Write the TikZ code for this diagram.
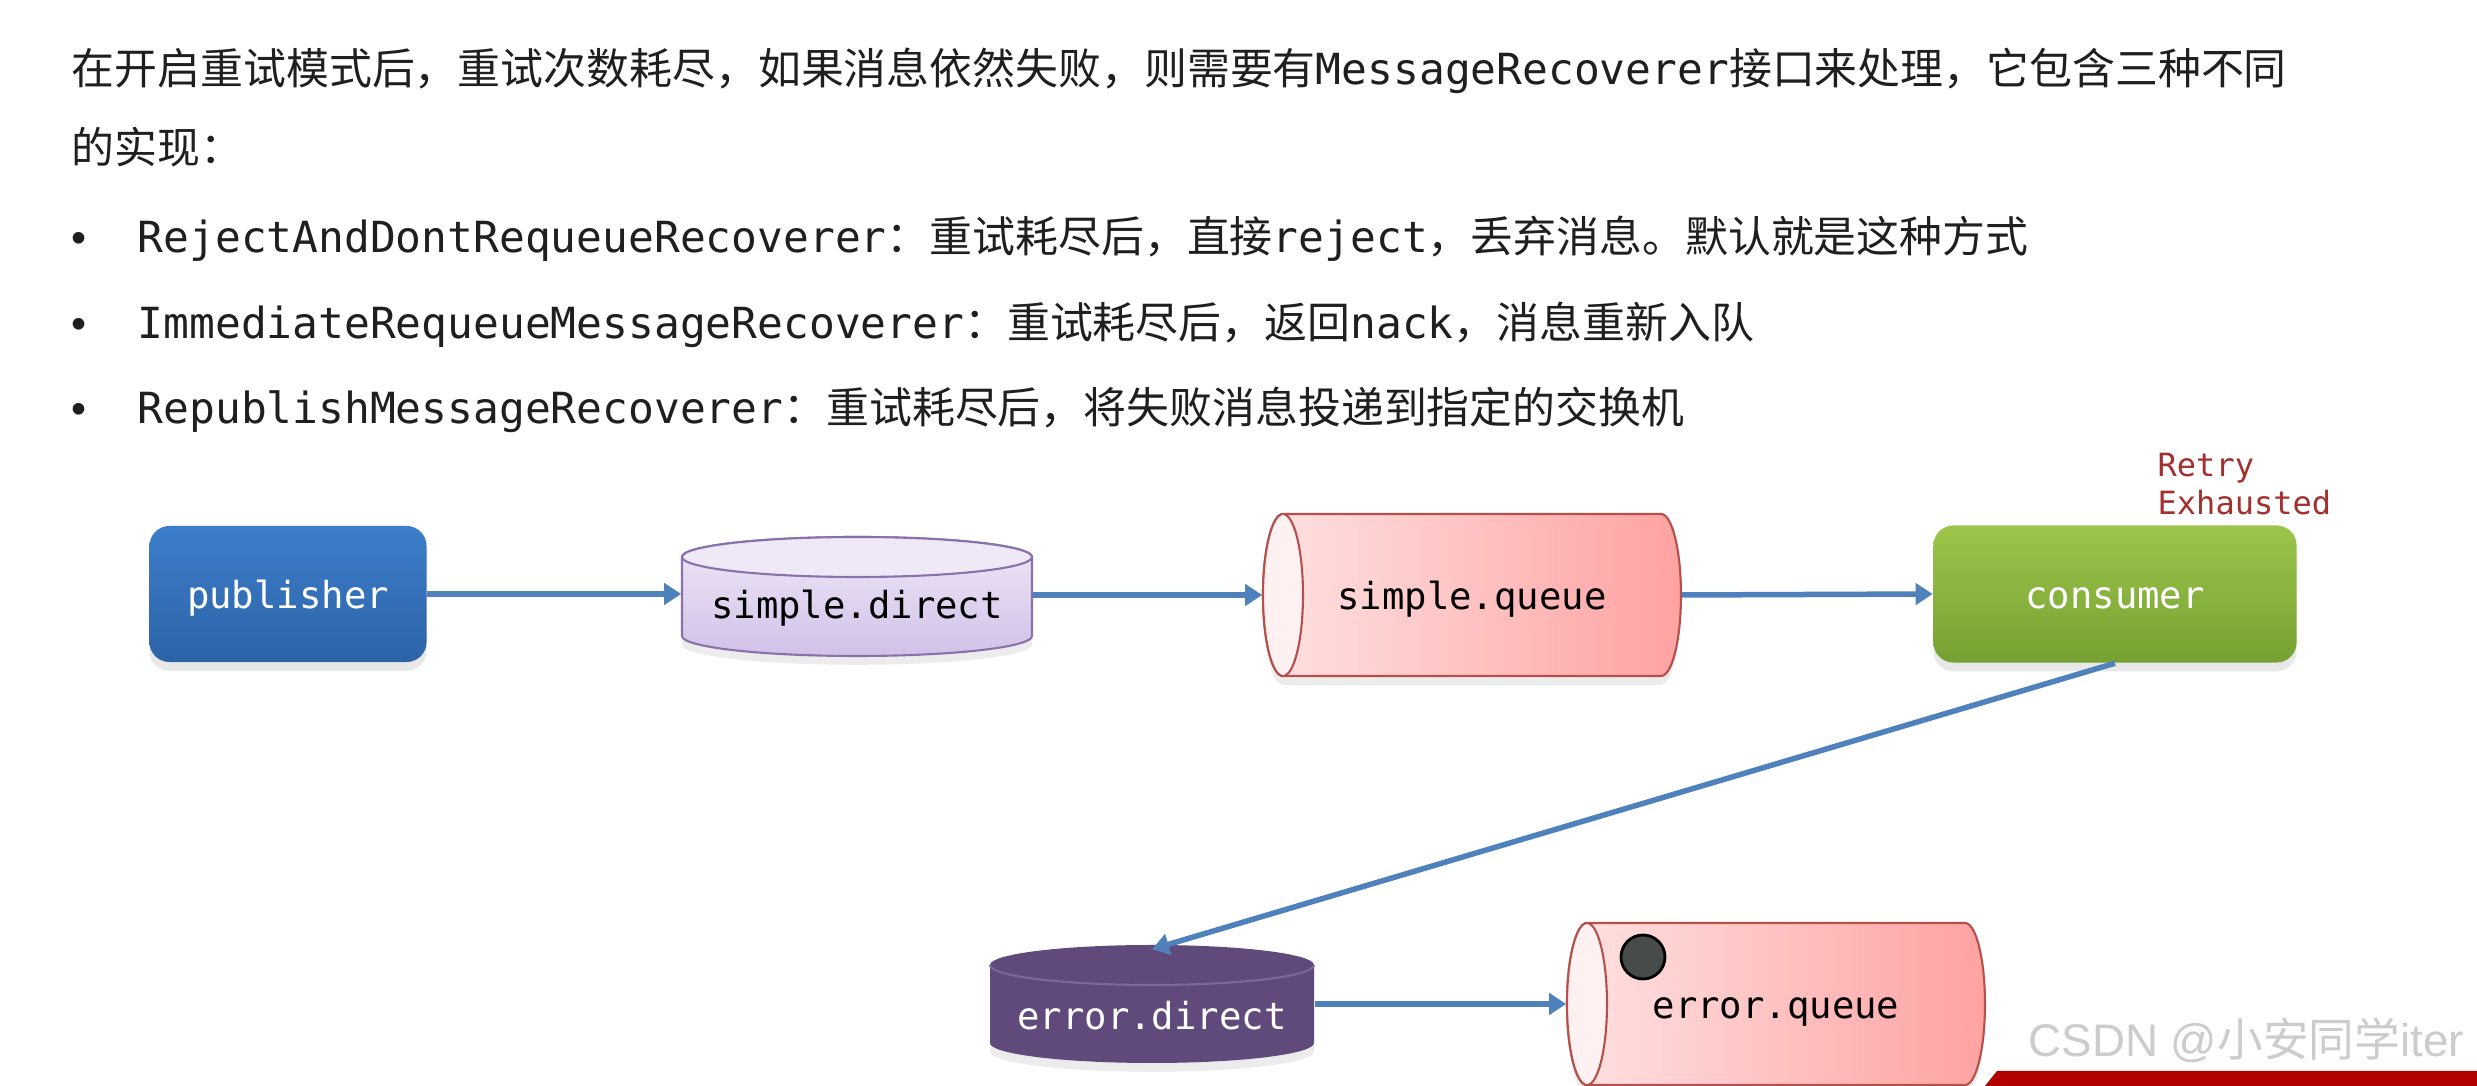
\documentclass[tikz,border=0pt]{standalone}
\usepackage{fontspec}
\setmainfont{Liberation Sans}
\setmonofont{DejaVu Sans Mono}
\newfontfamily\cjk{Noto Sans CJK SC}
\usetikzlibrary{arrows.meta,shadows}

\definecolor{arrowblue}{HTML}{4F81BD}
\definecolor{pubtop}{HTML}{3C7ECB}
\definecolor{pubbot}{HTML}{2D63A6}
\definecolor{constop}{HTML}{9DC54B}
\definecolor{consbot}{HTML}{76A032}
\definecolor{exlight}{HTML}{EFE8F7}
\definecolor{exdark}{HTML}{D2C1E8}
\definecolor{exline}{HTML}{8B71AC}
\definecolor{qlight}{HTML}{FFE2E2}
\definecolor{qdark}{HTML}{FFA2A2}
\definecolor{qend}{HTML}{FFF1F1}
\definecolor{qline}{HTML}{B5504C}
\definecolor{errpurple}{HTML}{604A7B}
\definecolor{errline}{HTML}{7D6899}
\definecolor{retryred}{HTML}{A3302E}
\definecolor{dotgray}{HTML}{474B49}
\definecolor{bannerred}{HTML}{B20000}

\begin{document}
\begin{tikzpicture}[x=0.01cm,y=0.01cm,
  txt/.style={anchor=base west,inner sep=0pt,text=black!88,font=\fontsize{12.2}{14}\selectfont},
  box/.style={rounded corners=0.2cm,minimum width=2.77cm,minimum height=1.36cm,text=white,
    text height=0.38cm,text depth=0.09cm,
    font=\fontsize{10.6}{12}\ttfamily,drop shadow={opacity=0.18,shadow xshift=0pt,shadow yshift=-2.5pt}},
  lbl/.style={inner sep=0pt,text height=0.38cm,text depth=0.09cm,font=\fontsize{10.6}{12}\ttfamily},
  link/.style={arrowblue,line width=0.055cm,-{Triangle[length=0.17cm,width=0.21cm]}},
  shad/.style={drop shadow={opacity=0.15,shadow xshift=0pt,shadow yshift=-2.5pt}}]
  \useasboundingbox (0,0) rectangle (2477,-1086);
  \fill[white] (0,0) rectangle (2477,-1086);

  % intro text
  \node[txt] (intro) at (71,-85) {{\cjk 在开启重试模式后，重试次数耗尽，如果消息依然失败，则需要有}\texttt{MessageRecoverer}{\cjk 接口来处理，它包含三种不同}};
  \node[txt] (intro2) at (71,-164) {\cjk 的实现：};
  \foreach \y/\cls/\desc in {253/RejectAndDontRequeueRecoverer/{重试耗尽后，直接\texttt{reject}，丢弃消息。默认就是这种方式},
      339/ImmediateRequeueMessageRecoverer/{重试耗尽后，返回\texttt{nack}，消息重新入队},
      424/RepublishMessageRecoverer/{重试耗尽后，将失败消息投递到指定的交换机}} {
    \node[txt,anchor=base] (dot\y) at (79,-\y) {•};
    \node[txt] (item\y) at (137,-\y) {\texttt{\cls}{\cjk ：\desc}};
  }

  % exchanges
  \shade[shad,top color=exlight,bottom color=exdark,draw=exline,line width=0.6pt]
    (682,-557) -- (682,-636) arc[start angle=180,end angle=360,x radius=175,y radius=20]
    -- (1032,-557) arc[start angle=0,end angle=180,x radius=175,y radius=20] -- cycle;
  \draw[exline,fill=exlight,line width=0.6pt] (857,-557) ellipse[x radius=175,y radius=20];
  \fill[shad,errpurple] (990,-965) -- (990,-1043) arc[start angle=180,end angle=360,x radius=162,y radius=20]
    -- (1314,-965) arc[start angle=0,end angle=180,x radius=162,y radius=20] -- cycle;
  \draw[errline,line width=0.6pt] (990,-965) arc[start angle=180,end angle=360,x radius=162,y radius=20];

  % queues
  \foreach \qx/\qy in {1283/595,1587/1004} {
    \shade[shad,left color=qlight,right color=qdark,draw=qline,line width=0.6pt]
      (\qx,-\qy+81) -- (\qx+378,-\qy+81) arc[start angle=90,end angle=-90,x radius=20,y radius=81]
      -- (\qx,-\qy-81) arc[start angle=270,end angle=90,x radius=20,y radius=81] -- cycle;
    \draw[qline,fill=qend,line width=0.6pt] (\qx,-\qy) ellipse[x radius=20,y radius=81];
  }
  \draw[black,fill=dotgray,line width=0.8pt] (1643,-957) circle[radius=22];

  % nodes
  \node[box,top color=pubtop,bottom color=pubbot] (pub) at (288,-594) {publisher};
  \node[lbl,minimum width=3.5cm] (sdir) at (857,-604) {simple.direct};
  \node[lbl,minimum width=4.18cm,minimum height=1.62cm] (squeue) at (1472,-595) {simple.queue};
  \node[box,minimum width=3.63cm,minimum height=1.37cm,top color=constop,bottom color=consbot] (cons) at (2115,-594) {consumer};
  \node[inner sep=0pt,text=retryred,font=\fontsize{9.1}{11}\ttfamily,align=left,anchor=north west] (retry) at (2157,-452) {Retry\\Exhausted};
  \node[lbl,minimum width=3.24cm,minimum height=0.98cm,text=white] (edir) at (1152,-1015) {error.direct};
  \node[lbl,minimum width=4.18cm,minimum height=1.62cm] (equeue) at (1776,-1004) {error.queue};

  % links
  \draw[link] (pub.east) -- (pub.east -| sdir.west);
  \draw[link] (squeue.west -| sdir.east) -- (squeue.west);
  \draw[link] (squeue.east) -- (cons.west);
  \draw[link] (cons.south) -- ([yshift=0.16cm]edir.north);
  \draw[link] (edir.east |- equeue.west) -- (equeue.west);

  % watermark
  \node[anchor=base west,inner sep=0pt,text=black!20,font=\fontsize{13.0}{15}\selectfont] (mark) at (2028,-1057) {CSDN @{\cjk 小安同学}iter};
  \fill[bannerred] (1985,-1086) -- (1997,-1071) -- (2477,-1071) -- (2477,-1086) -- cycle;
\end{tikzpicture}
\end{document}
